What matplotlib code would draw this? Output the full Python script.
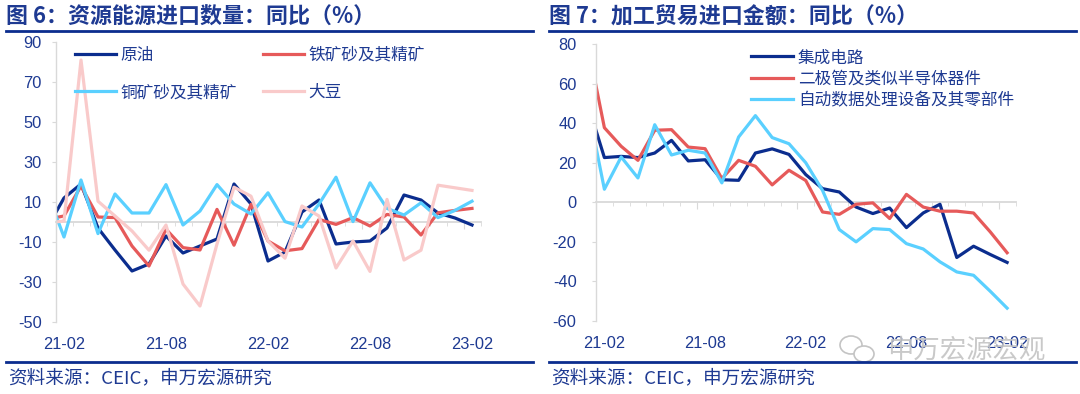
import numpy as np
import matplotlib
matplotlib.use("Agg")
import matplotlib.pyplot as plt
from matplotlib.lines import Line2D
from matplotlib.patches import Ellipse

plt.rcParams['font.family'] = ['Liberation Sans', 'Noto Sans CJK SC']
plt.rcParams['axes.unicode_minus'] = False

# monthly categories, 21-01 .. 23-02 (first month is clipped by the axis)
months = [f'{y}-{m:02d}' for y in (21, 22, 23) for m in range(1, 13)][:26]
label_months = ['21-02', '21-08', '22-02', '22-08', '23-02']

# Fig 6: resource & energy import volumes, yoy %
crude = [-3, 12, 19, -3, -14, -24.5, -21, -7, -15.5, -12, -8.5, 19, 9,
         -19.5, -15, 5, 11, -11, -10, -9.5, -3, 13.5, 11, 4.5, 2, -1.5]
iron = [1.4, 3, 18, 2.5, 2.2, -12, -22, -3.6, -12.8, -14, 6.3, -11.6, 8.8,
        -9.5, -14.4, -13.3, 1.3, -1.2, 2.2, -2, 3.8, 2.5, -6.5, 4.6, 5.8, 6.8]
copper = [15, -7.5, 21, -5.8, 14, 4.5, 4.5, 18.7, -1.5, 5.5, 18.7, 9, 4,
          14.6, 0.2, -2.5, 9, 22.4, 0.2, 19.6, 6.8, 3.5, 9.6, 2.2, 5.8, 10.4]
soy = [-0.5, 0.5, 81, 10.4, 3, -4.5, -14.1, -1.5, -31, -42, -11, 17.4, 12.9,
       -9.5, -18.1, 8, 3, -23, -9.5, -24.7, 11.3, -19, -14.1, 18.4, 17.1, 15.8]

# Fig 7: processing trade import value, yoy %
ic = [50, 22.6, 23.2, 22.6, 24.9, 31.3, 20.9, 21.5, 11.4, 11.1, 24.9, 27, 24.2,
      14, 6.9, 5.2, -2.4, -5.7, -2.9, -12.8, -5.4, -1, -27.9, -22.2, -26.4, -30.4]
diode = [80, 37.7, 28.3, 21.2, 36.4, 36.7, 27.9, 27.1, 12, 21.2, 18.2, 8.8, 16.2,
         11, -4.9, -6.1, -1, -0.3, -8.2, 4, -2.4, -4.5, -4.5, -5.4, -15, -25.5]
adp = [49, 6.6, 22.9, 12.3, 39.2, 23.9, 26.3, 24.9, 9.8, 33, 43.8, 32.7, 29.6,
       20, 6, -13.8, -20, -13.3, -13.8, -20.9, -23.6, -30.1, -35.2, -36.9, -45, -53.5]

navy = '#0b2d8e'
red = '#e65a5a'
cyan = '#5ad0ff'
pink = '#f9caca'
txt = '#1e3a92'
grey = '#d9d9d9'

x = np.arange(len(months)) - 0.5
W, H = 1080, 394


def setup(ax, ylo, yhi, ystep, ypad):
    for s in ('top', 'right', 'bottom'):
        ax.spines[s].set_visible(False)
    ax.spines['left'].set_color(grey)
    ax.spines['left'].set_linewidth(1)
    ax.set_xlim(0, 25)
    ax.set_ylim(ylo, yhi)
    yt = np.arange(ylo, yhi + 1, ystep)
    ax.set_yticks(yt)
    ax.set_yticklabels([str(v) for v in yt])
    ax.tick_params(axis='y', length=3, color=grey, pad=ypad,
                   labelsize=11.8, labelcolor=txt)
    pos = [x[months.index(m)] for m in label_months]
    ax.set_xticks(pos)
    ax.set_xticklabels(label_months)
    ax.tick_params(axis='x', length=0, pad=10.5, labelsize=11.8, labelcolor=txt)
    # category axis crossing at zero
    sec = ax.secondary_xaxis(-ylo / (yhi - ylo))
    sec.spines['bottom'].set_color(grey)
    sec.spines['bottom'].set_linewidth(1.3)
    sec.set_xticks(np.arange(0, 25, 6))
    sec.set_xticks(np.arange(0, 26, 1), minor=True)
    sec.tick_params(which='major', length=5, color=grey, labelbottom=False)
    sec.tick_params(which='minor', length=3, color=grey, labelbottom=False)


fig = plt.figure(figsize=(W / 100, H / 100), dpi=100)

ax1 = fig.add_axes([55.5 / W, 1 - 322 / H, 425 / W, 280 / H])
setup(ax1, -50, 90, 20, 7)
l1, = ax1.plot(x, crude, color=navy, lw=2.3, label='原油')
l2, = ax1.plot(x, iron, color=red, lw=2.3, label='铁矿砂及其精矿')
l3, = ax1.plot(x, copper, color=cyan, lw=2.3, label='铜矿砂及其精矿')
l4, = ax1.plot(x, soy, color=pink, lw=2.3, label='大豆')
leg1 = ax1.legend(handles=[l1, l3, l2, l4], ncol=2, loc='upper left',
                  bbox_to_anchor=(0.046, 0.982), frameon=False, fontsize=12,
                  handlelength=2.45, handletextpad=0.25, columnspacing=1.6,
                  labelspacing=1.32, borderpad=0, borderaxespad=0)
for t in leg1.get_texts():
    t.set_color(txt)

ax2 = fig.add_axes([596 / W, 1 - 321 / H, 419.5 / W, 277 / H])
setup(ax2, -60, 80, 20, 11)
m1, = ax2.plot(x, ic, color=navy, lw=2.3, label='集成电路')
m2, = ax2.plot(x, diode, color=red, lw=2.3, label='二极管及类似半导体器件')
m3, = ax2.plot(x, adp, color=cyan, lw=2.3, label='自动数据处理设备及其零部件')
leg2 = ax2.legend(handles=[m1, m2, m3], loc='upper left',
                  bbox_to_anchor=(0.37, 0.978), frameon=False, fontsize=12,
                  handlelength=2.5, handletextpad=0.3, labelspacing=0.32,
                  borderpad=0, borderaxespad=0)
for t in leg2.get_texts():
    t.set_color(txt)

# titles, rules and source notes
titles = ['图 6：资源能源进口数量：同比（%）', '图 7：加工贸易进口金额：同比（%）']
for x0, x1, title in [(6, 533, titles[0]), (549, 1076, titles[1])]:
    fig.text(x0 / W, 1 - 17 / H, title, fontsize=15.8, fontweight='bold',
             color=txt, va='center', family=['Noto Sans CJK SC'])
    fig.add_artist(Line2D([x0 / W, x1 / W], [1 - 31 / H] * 2, color=navy, lw=2))
    fig.add_artist(Line2D([x0 / W, x1 / W], [1 - 362 / H] * 2, color=navy, lw=2))
    fig.text((x0 + 2) / W, 1 - 378 / H, '资料来源：CEIC，申万宏源研究', fontsize=13.4,
             color=txt, va='center', family=['Noto Sans CJK SC'])

# watermark
fig.add_artist(Ellipse((851 / W, 1 - 345 / H), 22 / W, 18 / H, fill=False,
                       ec='#c4c4c4', lw=1.2))
fig.add_artist(Ellipse((864 / W, 1 - 354 / H), 20 / W, 16 / H, fill=True,
                       fc='white', ec='#c4c4c4', lw=1.2))
fig.text(966 / W, 1 - 350 / H, '申万宏源宏观', fontsize=19, color='#c4c4c4',
         ha='center', va='center', family=['Noto Sans CJK SC'], alpha=0.9)

fig.savefig('out.png', dpi=100)
